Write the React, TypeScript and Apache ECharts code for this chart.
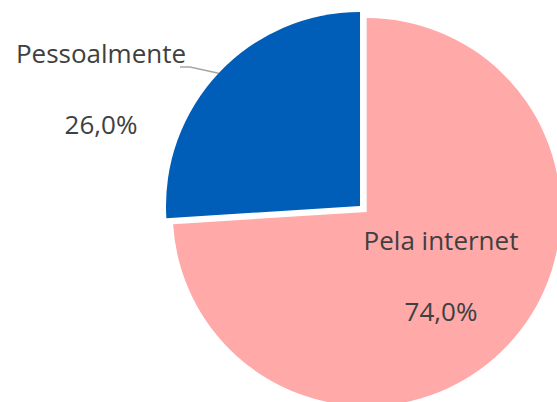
import React, { useEffect, useRef } from "react";
import * as echarts from "echarts";

const categories = ["Pela internet", "Pessoalmente"];
const values = [74.0, 26.0];
const colors = ["#FFA9A9", "#005EB8"];

function fmt(v: number): string {
  return v.toFixed(1).replace(".", ",") + "%";
}

const labelBase = {
  show: true,
  fontFamily: "Open Sans",
  fontSize: 26,
  lineHeight: 35.5,
  color: "#404040",
  align: "center",
  formatter: (p: any) => `${p.name}\n\n${fmt(p.value)}`,
};

// one pie series per exploded slice; the other slices are invisible
function sliceSeries(idx: number, center: number[], layout: any) {
  return {
    type: "pie",
    center,
    radius: [0, 194],
    startAngle: 90,
    clockwise: true,
    emphasis: { disabled: true },
    silent: true,
    data: categories.map((name, i) => ({
      name,
      value: values[i],
      itemStyle: { color: i === idx ? colors[i] : "rgba(0,0,0,0)" },
      label: i === idx ? { show: true } : { show: false },
      labelLine: { show: i === idx && idx === 1 },
    })),
    label: { ...labelBase, position: idx === 0 ? "inside" : "outside" },
    labelLine: {
      lineStyle: { color: "#A6A6A6", width: 1.5 },
      length: 5,
      length2: 10,
    },
    labelLayout: layout,
  };
}

export default function App() {
  const ref = useRef<HTMLDivElement>(null);
  useEffect(() => {
    if (!ref.current) return;
    const chart = echarts.init(ref.current, null, { renderer: "svg" });
    chart.setOption({
      animation: false,
      series: [
        sliceSeries(0, [366.7, 212], () => ({
          x: 441,
          y: 275,
          align: "center",
          verticalAlign: "middle",
        })),
        sliceSeries(1, [360, 206], (p: any) => {
          const start = p.labelLinePoints ? p.labelLinePoints[0] : [218.6, 73];
          return {
            x: 101,
            y: 88,
            align: "center",
            verticalAlign: "middle",
            labelLinePoints: [start, [190, 67], [180, 67]],
          };
        }),
      ],
    });
    return () => chart.dispose();
  }, []);
  return (
    <div
      ref={ref}
      style={{ position: "absolute", left: 0, top: 0, width: 557, height: 402 }}
    />
  );
}
